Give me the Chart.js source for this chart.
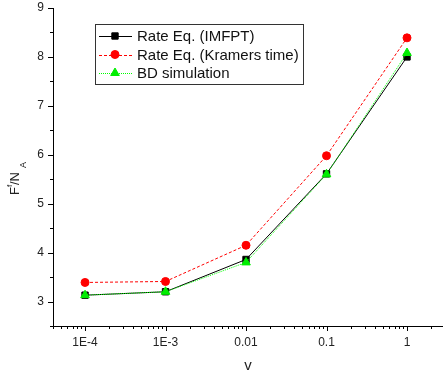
<!DOCTYPE html>
<html>
<head>
<meta charset="utf-8">
<script src="https://cdn.jsdelivr.net/npm/chart.js@4"></script>
<style>
  body { margin: 0; background: #fff; }
  #wrap { width: 443px; height: 377px; position: relative; }
</style>
</head>
<body>
<div id="wrap"><canvas id="grafico"></canvas></div>
<script>
// Dados
const valoresV = [1e-4, 1e-3, 0.01, 0.1, 1];
const rotulosV = ['1E-4', '1E-3', '0.01', '0.1', '1'];
const rotulosY = [3, 4, 5, 6, 7, 8, 9];
const imfpt = [3.13, 3.20, 3.86, 5.61, 8.00];
const kramers = [3.39, 3.41, 4.15, 5.98, 8.39];
const bd = [3.13, 3.20, 3.80, 5.60, 8.08];
const nomesSeries = ['Rate Eq. (IMFPT)', 'Rate Eq. (Kramers time)', 'BD simulation'];

const fonte = '"Liberation Sans", Arial, sans-serif';

function pontos(serie) {
  return valoresV.map((v, i) => ({ x: v, y: serie[i] }));
}

// Plugin que desenha os ticks, os títulos dos eixos e a legenda com moldura
const extras = {
  id: 'extras',
  afterDraw(chart) {
    const ctx = chart.ctx;
    const sx = chart.scales.x;
    const sy = chart.scales.y;
    ctx.save();

    // ticks do eixo x (maiores nas décadas, menores em 2..9)
    ctx.strokeStyle = '#000';
    ctx.lineWidth = 1;
    ctx.beginPath();
    for (let e = -6; e <= 1; e++) {
      for (let k = 1; k <= 9; k++) {
        const v = k * Math.pow(10, e);
        if (v < sx.min || v > sx.max) continue;
        const px = Math.round(sx.getPixelForValue(v)) + 0.5;
        const len = k === 1 ? 5 : 3;
        ctx.moveTo(px, sx.top);
        ctx.lineTo(px, sx.top + len);
      }
    }
    // ticks do eixo y (inteiros maiores, meios menores)
    for (let v = sy.min; v <= sy.max + 1e-9; v += 0.5) {
      const py = Math.round(sy.getPixelForValue(v)) + 0.5;
      const len = Number.isInteger(v) ? 5 : 3;
      ctx.moveTo(sy.right, py);
      ctx.lineTo(sy.right - len, py);
    }
    ctx.stroke();

    // título do eixo x
    ctx.fillStyle = '#222';
    ctx.font = '15px ' + fonte;
    ctx.textAlign = 'center';
    ctx.textBaseline = 'middle';
    ctx.fillText('v', (chart.chartArea.left + chart.chartArea.right) / 2, 366);

    // título do eixo y: F^f/N_A girado
    ctx.save();
    ctx.translate(19, 195);
    ctx.rotate(-Math.PI / 2);
    ctx.textAlign = 'left';
    ctx.textBaseline = 'alphabetic';
    ctx.font = '13px ' + fonte;
    ctx.fillText('F', 0, 0);
    ctx.font = '8px ' + fonte;
    ctx.fillText('f', 8, -7);
    ctx.font = '13px ' + fonte;
    ctx.fillText('/N', 10, 0);
    ctx.font = '9px ' + fonte;
    ctx.fillText('A', 27, 7);
    ctx.restore();

    // legenda com moldura
    ctx.strokeStyle = '#333';
    ctx.lineWidth = 1;
    ctx.strokeRect(95.5, 24.5, 208, 60);
    ctx.font = '15px ' + fonte;
    ctx.textAlign = 'left';
    ctx.textBaseline = 'middle';
    chart.data.datasets.forEach((ds, i) => {
      const ly = 36 + i * 18.5;
      ctx.save();
      ctx.strokeStyle = ds.borderColor;
      ctx.lineWidth = ds.borderWidth;
      ctx.setLineDash(ds.borderDash || []);
      ctx.beginPath();
      ctx.moveTo(99, Math.round(ly) + 0.5);
      ctx.lineTo(132, Math.round(ly) + 0.5);
      ctx.stroke();
      ctx.setLineDash([]);
      ctx.fillStyle = ds.pointBackgroundColor;
      ctx.strokeStyle = ds.pointBorderColor;
      Chart.helpers.drawPoint(ctx, { pointStyle: ds.pointStyle, radius: ds.pointRadius, rotation: 0, borderWidth: 1 }, 115, ly);
      ctx.restore();
      ctx.fillStyle = '#111';
      ctx.fillText(nomesSeries[i], 137, ly + 1);
    });

    ctx.restore();
  }
};

const ctx = document.getElementById('grafico').getContext('2d');
new Chart(ctx, {
  type: 'line',
  data: {
    datasets: [
      {
        label: nomesSeries[0],
        data: pontos(imfpt),
        borderColor: '#000000',
        borderWidth: 1,
        pointStyle: 'rect',
        pointRadius: 4.5,
        pointBackgroundColor: '#000000',
        pointBorderColor: '#000000',
        order: 3
      },
      {
        label: nomesSeries[1],
        data: pontos(kramers),
        borderColor: '#ff0000',
        borderWidth: 1,
        borderDash: [3, 2],
        pointStyle: 'circle',
        pointRadius: 4,
        pointBackgroundColor: '#ff0000',
        pointBorderColor: '#ff0000',
        order: 2
      },
      {
        label: nomesSeries[2],
        data: pontos(bd),
        borderColor: '#00ff00',
        borderWidth: 1,
        borderDash: [1, 1],
        pointStyle: 'triangle',
        pointRadius: 5,
        pointBackgroundColor: '#00ee00',
        pointBorderColor: '#00ee00',
        order: 1
      }
    ]
  },
  options: {
    responsive: true,
    maintainAspectRatio: false,
    animation: false,
    layout: { autoPadding: false, padding: { top: 8, right: 0, left: 0, bottom: 0 } },
    plugins: {
      legend: { display: false },
      tooltip: { enabled: false }
    },
    scales: {
      x: {
        type: 'logarithmic',
        min: 4e-5,
        max: 2.8,
        afterBuildTicks: s => { s.ticks = valoresV.map(v => ({ value: v })); },
        afterFit: s => { s.height = 51; s.paddingLeft = 0; s.paddingRight = 0; },
        grid: { drawOnChartArea: false, drawTicks: false },
        border: { color: '#000', width: 1 },
        ticks: {
          autoSkip: false,
          maxRotation: 0,
          padding: 9,
          color: '#222',
          font: { family: fonte, size: 12 },
          callback: (v, i) => rotulosV[i]
        }
      },
      y: {
        min: 2.5,
        max: 9,
        afterBuildTicks: s => { s.ticks = rotulosY.map(v => ({ value: v })); },
        afterFit: s => { s.width = 53; s.paddingTop = 0; s.paddingBottom = 0; },
        grid: { drawOnChartArea: false, drawTicks: false },
        border: { color: '#000', width: 1 },
        ticks: {
          padding: 9,
          color: '#222',
          font: { family: fonte, size: 12 }
        }
      }
    }
  },
  plugins: [extras]
});
</script>
</body>
</html>
